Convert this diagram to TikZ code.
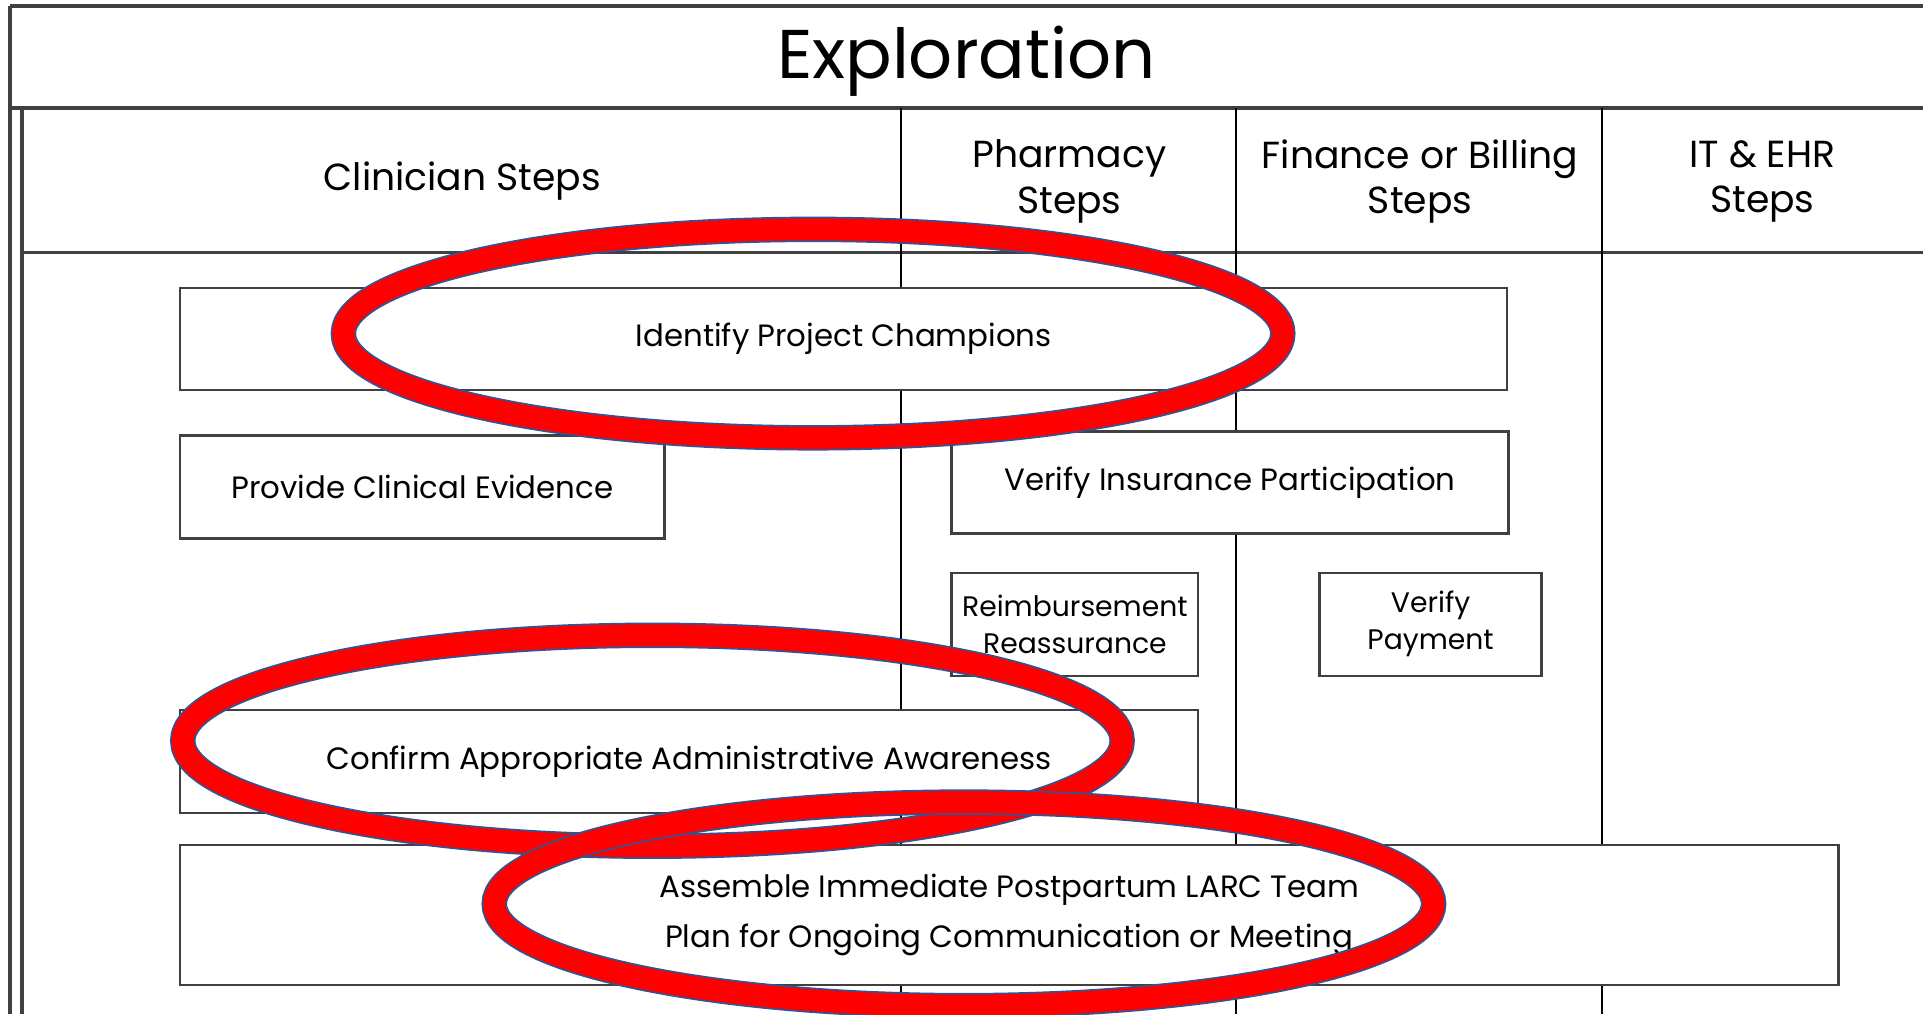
\documentclass[tikz,border=0pt]{standalone}
\usepackage{fontspec}
\setmainfont{Poppins}
\usetikzlibrary{positioning}
\definecolor{framegray}{HTML}{404040}
\definecolor{ringred}{HTML}{FF0000}
\definecolor{ringblue}{HTML}{2F5597}
\tikzstyle{frame}=[draw=framegray, line width=0.8pt]
\tikzstyle{lane}=[draw=black, line width=0.45pt]
\tikzstyle{stepbox}=[rectangle, draw=framegray, fill=white, line width=0.55pt,
        anchor=north west, align=center, inner sep=0pt, font=\fontsize{7.15}{8}\selectfont]
\tikzstyle{smallstep}=[stepbox, minimum height=0.84cm, font=\fontsize{6.55}{8}\selectfont]
\tikzstyle{lanehead}=[align=center, font=\fontsize{8.75}{10.5}\selectfont]
\tikzstyle{ringedge}=[draw=ringblue, line width=5.9pt]
\tikzstyle{ring}=[draw=ringred, line width=5.1pt]

\begin{document}
\begin{tikzpicture}[x=0.1mm, y=-0.1mm]
        \useasboundingbox (0,0) rectangle (1568,827);
        % table frame
        \draw[frame] (8,5) -- (1568,5);
        \draw[frame] (8,5) -- (8,827);
        \draw[frame] (8,88) -- (1568,88);
        \draw[frame] (18,88) -- (18,827);
        \draw[frame] (18,206) -- (1568,206);
        \foreach \x in {735,1008,1306}
          \draw[lane] (\x,88) -- (\x,827);
        \node (title) at (788,50) {\fontsize{16}{18}\selectfont Exploration};
        % lane headings
        \node (clinician) [lanehead] at (377,148) {Clinician Steps};
        \node (pharmacy) [lanehead] at (872,148) {Pharmacy\\Steps};
        \node (finance) [lanehead] at (1158,148) {Finance or Billing\\Steps};
        \node (itehr) [lanehead] at (1437,148) {IT \& EHR\\Steps};
        % steps
        \node (champions) [stepbox, minimum width=10.82cm, minimum height=0.83cm] at (146,234)
        {Identify Project Champions};
        \node (evidence) [stepbox, minimum width=3.95cm, minimum height=0.84cm] at (146,354)
        {Provide Clinical Evidence};
        \node (insurance) [stepbox, minimum width=4.54cm, minimum height=0.83cm] at (775,351)
        {Verify Insurance Participation};
        \node (reimburse) [smallstep, minimum width=2.01cm] at (775,466)
        {Reimbursement\\[0.6pt]Reassurance};
        \node (payment) [smallstep, minimum width=1.81cm] at (1075,466)
        {Verify\\[0.6pt]Payment};
        \node (admin) [stepbox, minimum width=8.30cm, minimum height=0.84cm] at (146,578)
        {Confirm Appropriate Administrative Awareness};
        \node (team) [stepbox, minimum width=13.52cm, minimum height=1.14cm] at (146,688)
        {Assemble Immediate Postpartum LARC Team\\[3.5pt]Plan for Ongoing Communication or Meeting};
        % highlight rings
        \foreach \cx/\cy/\ry in {663/272/8.5, 532/604/8.6, 786/737/8.3} {
          \draw[ringedge] (\cx,\cy) ellipse [x radius=38.3mm, y radius=\ry mm];
          \draw[ring] (\cx,\cy) ellipse [x radius=38.3mm, y radius=\ry mm];
        }
\end{tikzpicture}
\end{document}
